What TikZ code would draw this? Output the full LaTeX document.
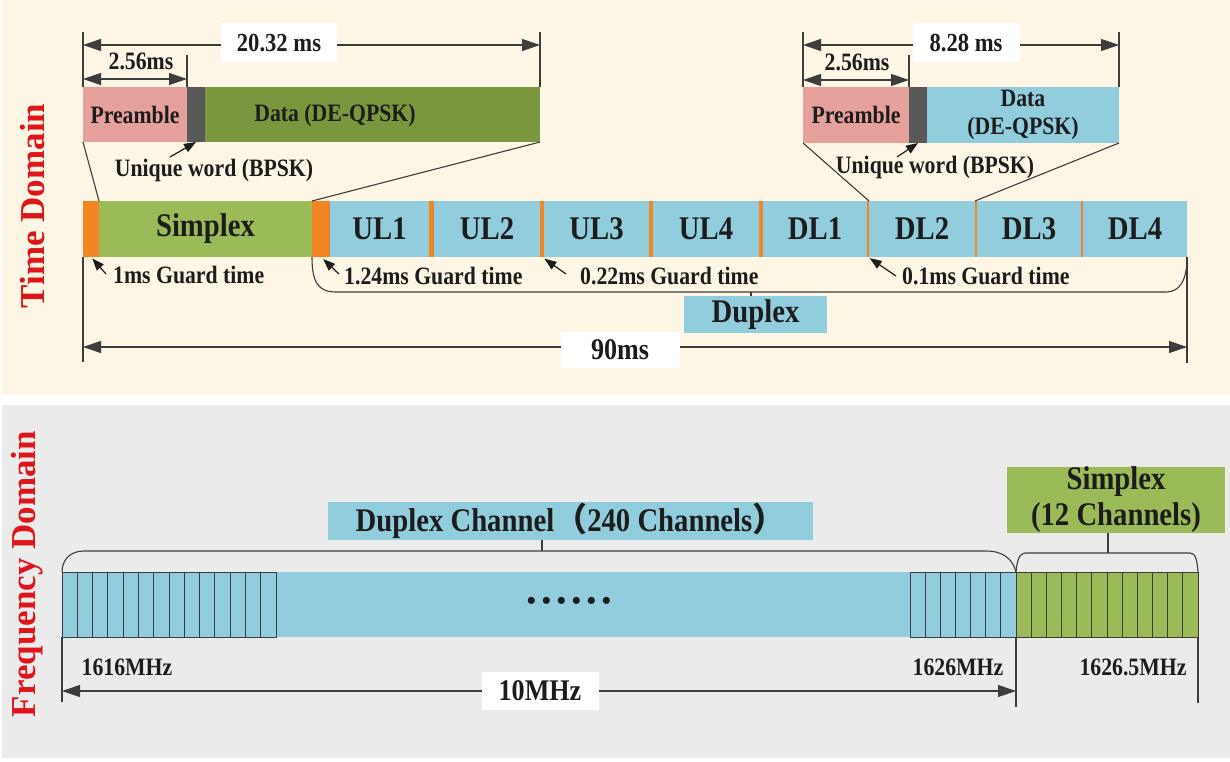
\documentclass[tikz,border=0pt]{standalone}
\usepackage{fontspec}
\setmainfont{Liberation Serif}[FakeStretch=0.87]
\newfontfamily\plainserif{Liberation Serif}
\newfontfamily\cjk{Noto Sans CJK SC}
\usetikzlibrary{arrows.meta}
\definecolor{cream}{RGB}{253,246,228}
\definecolor{panelgray}{RGB}{235,235,235}
\definecolor{barblue}{RGB}{146,205,221}
\definecolor{simgreen}{RGB}{155,187,89}
\definecolor{datagreen}{RGB}{122,151,62}
\definecolor{guard}{RGB}{242,133,35}
\definecolor{prepink}{RGB}{230,161,156}
\definecolor{uwgray}{RGB}{88,88,88}
\definecolor{ink}{RGB}{28,28,28}
\definecolor{linegray}{RGB}{60,60,60}
\definecolor{domred}{RGB}{222,22,28}
\begin{document}
\begin{tikzpicture}[x=1pt,y=-1pt,
  seg/.style={draw=none, inner sep=0pt, outer sep=0pt, anchor=north west, text=ink,
    font=\fontsize{25}{28}\selectfont\bfseries, align=center},
  big/.style={font=\fontsize{33}{36}\selectfont\bfseries},
  lbl/.style={inner sep=1pt, text=ink, font=\fontsize{25}{28}\selectfont\bfseries},
  dim/.style={draw=linegray, line width=1.1pt},
  dimarrow/.style={dim, {Triangle[length=18pt,width=12pt]}-{Triangle[length=18pt,width=12pt]}},
  gar/.style={draw=ink, line width=1.2pt, -{Triangle[length=12pt,width=9pt]}},
  whitebox/.style={fill=white, inner sep=0pt, text=ink},
  dom/.style={rotate=90, text=domred, font=\plainserif\fontsize{35}{35}\selectfont\bfseries},
  cell/.style={draw=linegray, line width=0.9pt}
]
\useasboundingbox (0,0) rectangle (1230,762);
% panels
\fill[cream] (2,0) rectangle (1230,395);
\fill[panelgray] (2,405) rectangle (1230,758);

% domain labels
\node[dom] (tdom) at (33,206) {Time Domain};
\node[dom] (fdom) at (27,574) {Frequency Domain};

% ---------- top-left frame ----------
\node[seg, fill=prepink, minimum width=104, minimum height=55] (pre1) at (83,87) {Preamble};
\node[seg, fill=uwgray, minimum width=18, minimum height=55] (uw1) at (187,87) {};
\node[seg, fill=datagreen, minimum width=335, minimum height=55] (data1) at (205,87) {};
\node[lbl] (data1t) at (335,115) {Data (DE-QPSK)};

\coordinate (t1a) at (83,32); \coordinate (t1b) at (540,32); \coordinate (t1c) at (187,55);
\draw[dim] (pre1.north west) -- (t1a);
\draw[dim] (data1.north east) -- (t1b);
\draw[dim] (uw1.north west) -- (t1c);
\draw[dimarrow] (83,45) -- (540,45);
\node[whitebox, minimum width=116, minimum height=39, font=\fontsize{26}{28}\selectfont\bfseries] (d2032) at (279,43) {20.32 ms};
\draw[dimarrow] (83,79) -- (187,79);
\node[lbl] (d256a) at (141,61) {2.56ms};

\node[lbl] (uwt1) at (214,170) {Unique word (BPSK)};
\coordinate (uwa1) at (170,157);
\draw[gar] (uwa1) -- (uw1.south);

% ---------- top-right frame ----------
\node[seg, fill=prepink, minimum width=106, minimum height=56] (pre2) at (803,87) {Preamble};
\node[seg, fill=uwgray, minimum width=18, minimum height=56] (uw2) at (909,87) {};
\node[seg, fill=barblue, minimum width=192, minimum height=56] (data2) at (927,87) {Data\\(DE-QPSK)};

\coordinate (t2a) at (803,32); \coordinate (t2b) at (1119,32); \coordinate (t2c) at (909,55);
\draw[dim] (pre2.north west) -- (t2a);
\draw[dim] (data2.north east) -- (t2b);
\draw[dim] (uw2.north west) -- (t2c);
\draw[dimarrow] (803,45) -- (1119,45);
\node[whitebox, minimum width=107, minimum height=39, font=\fontsize{26}{28}\selectfont\bfseries] (d828) at (966,43) {8.28 ms};
\draw[dimarrow] (803,80) -- (909,80);
\node[lbl] (d256b) at (857,62) {2.56ms};

\node[lbl] (uwt2) at (935,167) {Unique word (BPSK)};
\coordinate (uwa2) at (897,157);
\draw[gar] (uwa2) -- (uw2.south);

% ---------- main frame bar ----------
\node[seg, fill=guard, minimum width=16, minimum height=56] (g0) at (83,201) {};
\node[seg, fill=simgreen, minimum width=213, minimum height=56, big] (simp) at (99,201) {Simplex};
\node[seg, fill=guard, minimum width=18, minimum height=56] (g1) at (312,201) {};
\node[seg, fill=barblue, minimum width=99, minimum height=56, big] (ul1) at (330,201) {UL1};
\node[seg, fill=guard, minimum width=5, minimum height=56] (g2) at (429,201) {};
\node[seg, fill=barblue, minimum width=106, minimum height=56, big] (ul2) at (434,201) {UL2};
\node[seg, fill=guard, minimum width=4, minimum height=56] (g3) at (540,201) {};
\node[seg, fill=barblue, minimum width=105, minimum height=56, big] (ul3) at (544,201) {UL3};
\node[seg, fill=guard, minimum width=4, minimum height=56] (g4) at (649,201) {};
\node[seg, fill=barblue, minimum width=106, minimum height=56, big] (ul4) at (653,201) {UL4};
\node[seg, fill=guard, minimum width=4, minimum height=56] (g5) at (759,201) {};
\node[seg, fill=barblue, minimum width=104, minimum height=56, big] (dl1) at (763,201) {DL1};
\node[seg, fill=guard, minimum width=2, minimum height=56] (g6) at (867,201) {};
\node[seg, fill=barblue, minimum width=106, minimum height=56, big] (dl2) at (869,201) {DL2};
\node[seg, fill=guard, minimum width=2, minimum height=56] (g7) at (975,201) {};
\node[seg, fill=barblue, minimum width=104, minimum height=56, big] (dl3) at (977,201) {DL3};
\node[seg, fill=guard, minimum width=2, minimum height=56] (g8) at (1081,201) {};
\node[seg, fill=barblue, minimum width=104, minimum height=56, big] (dl4) at (1083,201) {DL4};

% zoom lines
\draw[dim] (pre1.south west) -- (simp.north west);
\draw[dim] (data1.south east) -- (simp.north east);
\draw[dim] (pre2.south west) -- (dl2.north west);
\draw[dim] (data2.south east) -- (dl2.north east);

% guard time labels
\node[lbl, anchor=west] (gt1) at (112,275) {1ms Guard time};
\node[lbl, anchor=west] (gt2) at (343,276) {1.24ms Guard time};
\node[lbl, anchor=west] (gt3) at (579,276) {0.22ms Guard time};
\node[lbl, anchor=west] (gt4) at (901,276) {0.1ms Guard time};
\coordinate (ga1) at (106,274); \coordinate (ga2) at (339,274);
\coordinate (ga3) at (566,274); \coordinate (ga4) at (896,276);
\draw[gar, shorten >=2pt] (ga1) -- (g0.south);
\draw[gar, shorten >=3pt] (ga2) -- (g1.south);
\draw[gar, shorten >=3pt] (ga3) -- (g3.south);
\draw[gar, shorten >=2pt] (ga4) -- (g6.south);

% duplex brace
\draw[dim] (g1.south west) .. controls (312,282) and (318,292) .. (336,292) -- (1166,292) .. controls (1180,292) and (1187,280) .. (dl4.south east);
\node[seg, fill=barblue, minimum width=143, minimum height=37, big] (dupbox) at (684,296) {Duplex};
\coordinate (dupt) at (751,292);
\draw[dim] (dupt) -- (dupt |- dupbox.north);

% 90 ms
\coordinate (t9a) at (83,362); \coordinate (t9b) at (1187,363);
\draw[dim] (g0.south west) -- (t9a);
\draw[dim] (dl4.south east) -- (t9b);
\draw[dimarrow] (83,347) -- (1187,347);
\node[whitebox, minimum width=119, minimum height=36, font=\fontsize{30}{32}\selectfont\bfseries] (d90) at (620,350) {90ms};

% ---------- frequency domain ----------
\node[seg, fill=barblue, minimum width=954, minimum height=65] (dup) at (62,572) {};
\node[seg, fill=simgreen, minimum width=182, minimum height=65] (sim) at (1016,572) {};
\draw[cell] (62,572) rectangle (276,637);
\foreach \i in {1,...,13} { \draw[cell] ({62+\i*214/14},572) -- ({62+\i*214/14},637); }
\draw[cell] (910,572) rectangle (1016,637);
\foreach \i in {1,...,6} { \draw[cell] ({910+\i*106/7},572) -- ({910+\i*106/7},637); }
\draw[cell] (sim.north west) rectangle (sim.south east);
\foreach \i in {1,...,11} { \draw[cell] ({1016+\i*182/12},572) -- ({1016+\i*182/12},637); }
\node[text=ink, inner sep=0pt, font=\plainserif\fontsize{26}{26}\selectfont\bfseries] (dots) at (569,603) {•\hspace{5.9pt}•\hspace{5.9pt}•\hspace{5.9pt}•\hspace{5.9pt}•\hspace{5.9pt}•};

% braces
\draw[dim] (dup.north west) .. controls (62,560) and (70,551) .. (84,551) -- (986,551) .. controls (1004,551) and (1013,560) .. (dup.north east);
\node[seg, fill=barblue, minimum width=485, minimum height=38, font=\fontsize{33}{36}\selectfont\bfseries] (dupch) at (328,502) {Duplex Channel{\cjk （}240 Channels{\cjk ）}};
\coordinate (dct) at (542,551);
\draw[dim] (dct) -- (dct |- dupch.south);

\draw[dim] (sim.north west) .. controls (1017,561) and (1019,553) .. (1026,553) -- (1190,553) .. controls (1196,553) and (1197,561) .. (sim.north east);
\node[seg, fill=simgreen, minimum width=218, minimum height=65, font=\fontsize{33}{36}\selectfont\bfseries] (simbox) at (1007,467) {Simplex\\(12 Channels)};
\coordinate (sct) at (1108,553);
\draw[dim] (sct) -- (sct |- simbox.south);

% frequency labels
\node[lbl] (f1) at (127,667) {1616MHz};
\node[lbl] (f2) at (958,667) {1626MHz};
\node[lbl] (f3) at (1133,667) {1626.5MHz};

\coordinate (tfa) at (62,702); \coordinate (tfb) at (1016,707); \coordinate (tfc) at (1198,703);
\draw[dim] (dup.south west) -- (tfa);
\draw[dim] (dup.south east) -- (tfb);
\draw[dim] (sim.south east) -- (tfc);
\draw[dimarrow] (62,691) -- (1016,691);
\node[whitebox, minimum width=117, minimum height=38, font=\fontsize{30}{32}\selectfont\bfseries] (d10) at (540,691) {10MHz};
\end{tikzpicture}
\end{document}
